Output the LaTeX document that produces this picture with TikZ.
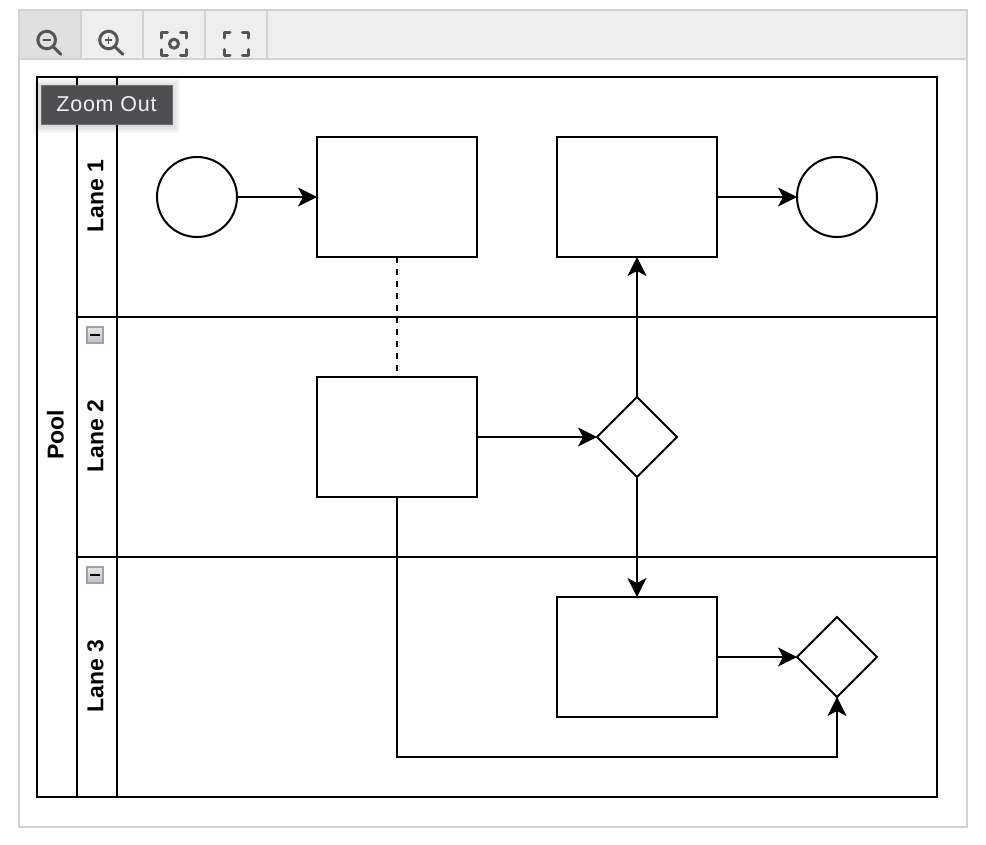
\documentclass[tikz,border=0pt]{standalone}
\usepackage{fontspec}
\setmainfont{Liberation Sans}
\usetikzlibrary{arrows.meta,shapes.geometric,calc}
\definecolor{framegray}{HTML}{D2D2D2}
\definecolor{barfill}{HTML}{EEEEEE}
\definecolor{barhover}{HTML}{E0E0E0}
\definecolor{icongray}{HTML}{555555}
\definecolor{tipfill}{HTML}{4F4F53}
\definecolor{tipline}{HTML}{6E6E72}
\definecolor{tiptext}{HTML}{F0F0F0}
\definecolor{foldline}{HTML}{9AA0AE}
\definecolor{foldtop}{HTML}{E6E6E8}
\definecolor{foldbot}{HTML}{BDBDC2}
\tikzset{
  x=1pt,y=-1pt,
  every node/.style={inner sep=0pt,outer sep=0pt},
  lanebox/.style={draw=black,line width=2pt,fill=none,rectangle},
  headlabel/.style={font=\fontsize{23}{27}\selectfont\bfseries,rotate=90},
  taskbox/.style={draw=black,line width=2pt,fill=white,rectangle,minimum width=160pt,minimum height=120pt},
  eventnode/.style={draw=black,line width=2pt,fill=white,circle,minimum size=80pt},
  gatenode/.style={draw=black,line width=2pt,fill=white,diamond,minimum width=80pt,minimum height=80pt,aspect=1},
  flow/.style={draw=black,line width=2pt,-{Stealth[length=19pt,width=19pt,inset=5pt]}},
  assoc/.style={draw=black,line width=2pt,dash pattern=on 6pt off 6pt},
  toolicon/.style={draw=icongray,line width=3pt,line cap=round,line join=round},
  toolsep/.style={draw=framegray,line width=1.5pt},
  foldbox/.style={draw=foldline,line width=2pt,top color=foldtop,bottom color=foldbot,minimum size=16pt},
}
\begin{document}
\begin{tikzpicture}
\useasboundingbox (0,0) rectangle (986,844);
\fill[white] (0,0) rectangle (986,844);
% viewer frame and toolbar
\fill[barfill] (19,10) rectangle (967,59);
\fill[barhover] (20,11) rectangle (80,58);
\draw[toolsep] (81,10) -- (81,59);
\draw[toolsep] (143,10) -- (143,59);
\draw[toolsep] (205,10) -- (205,59);
\draw[toolsep] (267,10) -- (267,59);
\draw[toolsep] (19,59) -- (967,59);
\draw[draw=framegray,line width=2pt] (19,10) rectangle (967,827);
% zoom-out icon
\draw[toolicon] (46.7,40) circle (8.8);
\draw[toolicon] (53.5,47) -- (60.7,54.3);
\draw[draw=icongray,line width=1.6pt] (42.5,40) -- (51,40);
% zoom-in icon
\draw[toolicon] (108.5,40) circle (8.8);
\draw[toolicon] (115.3,47) -- (122.7,54.3);
\draw[draw=icongray,line width=1.3pt] (105,40) -- (112,40) (108.5,36.5) -- (108.5,43.5);
% fit icon
\draw[toolicon] (161.7,38) -- (161.7,32.3) -- (167.5,32.3) (180.5,32.3) -- (186.2,32.3) -- (186.2,38)
  (186.2,49.5) -- (186.2,55.3) -- (180.5,55.3) (167.5,55.3) -- (161.7,55.3) -- (161.7,49.5);
\draw[toolicon] (174,43.7) circle (4.5);
% fullscreen icon
\draw[toolicon] (224.2,38) -- (224.2,32.3) -- (230,32.3) (242.5,32.3) -- (248.5,32.3) -- (248.5,38)
  (248.5,49.5) -- (248.5,55.3) -- (242.5,55.3) (230,55.3) -- (224.2,55.3) -- (224.2,49.5);
% swimlanes
\node[lanebox,minimum width=900pt,minimum height=720pt] (pool) at (487,437) {};
\node[lanebox,minimum width=40pt,minimum height=720pt] (poolhead) at (57,437) {};
\node[lanebox,minimum width=860pt,minimum height=240pt] (lane1) at (507,197) {};
\node[lanebox,minimum width=860pt,minimum height=240pt] (lane2) at (507,437) {};
\node[lanebox,minimum width=860pt,minimum height=240pt] (lane3) at (507,677) {};
\node[lanebox,minimum width=40pt,minimum height=240pt] (head1) at (97,197) {};
\node[lanebox,minimum width=40pt,minimum height=240pt] (head2) at (97,437) {};
\node[lanebox,minimum width=40pt,minimum height=240pt] (head3) at (97,677) {};
\node[headlabel] (poolt) at (55.5,435) {Pool};
\node[headlabel] (t1) at (95.5,196) {Lane 1};
\node[headlabel] (t2) at (95.5,436) {Lane 2};
\node[headlabel] (t3) at (95.5,676) {Lane 3};
% fold buttons
\node[foldbox] (fold2) at (95,335) {};
\draw[line width=2pt] (90,335) -- (100,335);
\node[foldbox] (fold3) at (95,575) {};
\draw[line width=2pt] (90,575) -- (100,575);
% flow elements
\node[eventnode] (start) at (197,197) {};
\node[taskbox] (taska) at (397,197) {};
\node[taskbox] (taskb) at (637,197) {};
\node[eventnode] (end) at (837,197) {};
\node[taskbox] (taskc) at (397,437) {};
\node[gatenode] (gatea) at (637,437) {};
\node[taskbox] (taskd) at (637,657) {};
\node[gatenode] (gateb) at (837,657) {};
% connectors
\draw[flow] (start) -- (taska);
\draw[flow] (taskb) -- (end);
\draw[assoc] (taska.south) -- (taskc.north);
\draw[flow] (taskc) -- (gatea);
\draw[flow] (gatea) -- (taskb);
\draw[flow] (gatea) -- (taskd);
\draw[flow] (taskd) -- (gateb);
\draw[flow] (taskc.south) |- ($(gateb.south)+(0,60)$) -- (gateb.south);
% tooltip
\foreach \g in {8,6,4,2}{
  \fill[black,opacity=0.035] (41-\g,86-\g+1) rectangle (172+\g,124+\g+1);
}
\node[draw=tipline,line width=1pt,fill=tipfill,minimum width=131pt,minimum height=39pt,
  text=tiptext,font=\fontsize{21.5}{25}\selectfont\addfontfeature{LetterSpace=3.5}] (tip) at (106.5,104.5) {Zoom Out};
\end{tikzpicture}
\end{document}
